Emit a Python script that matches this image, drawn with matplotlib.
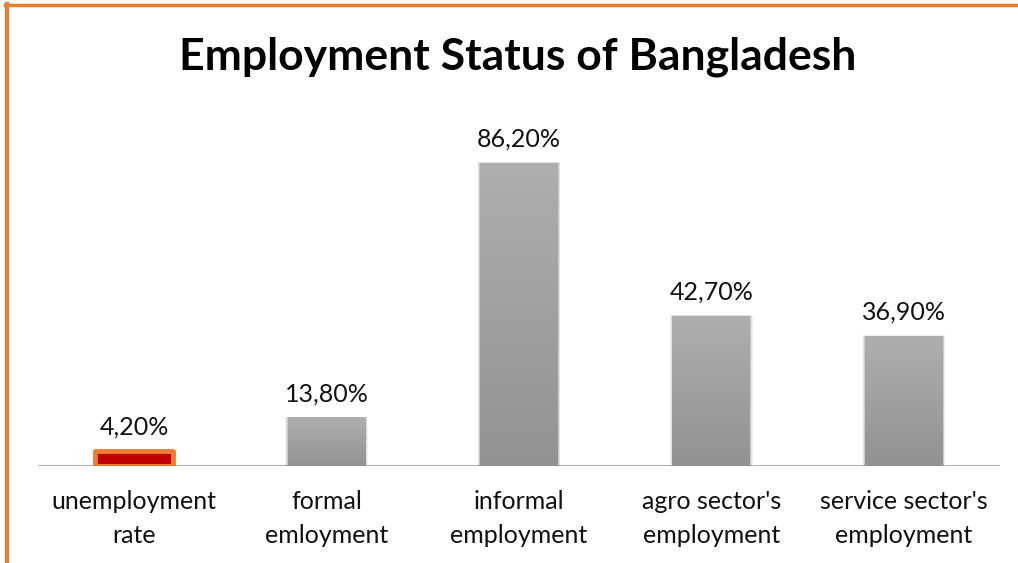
import numpy as np
import matplotlib.pyplot as plt
from matplotlib.patches import Rectangle
from matplotlib.lines import Line2D
from matplotlib.colors import LinearSegmentedColormap

categories = ["unemployment\nrate", "formal\nemloyment", "informal\nemployment",
              "agro sector's\nemployment", "service sector's\nemployment"]
values = [4.2, 13.8, 86.2, 42.7, 36.9]
value_labels = ["4,20%", "13,80%", "86,20%", "42,70%", "36,90%"]

plt.rcParams['font.family'] = ['Lato', 'DejaVu Sans']

W, H = 1018, 563
fig = plt.figure(figsize=(W / 100, H / 100), dpi=100)
fig.patch.set_facecolor('white')

ax = fig.add_axes([38 / W, (H - 466) / H, (1000 - 38) / W, (466 - 114.5) / H])
ax.set_xlim(-0.5, len(categories) - 0.5)
ax.set_ylim(0, 100)
for s in ax.spines.values():
    s.set_visible(False)
ax.set_yticks([])
ax.set_xticks([])
ax.axhline(0, color='#A6A6A6', lw=1.2, zorder=1)

x = np.arange(len(categories))
bw = 0.405
bars = ax.bar(x, values, width=bw, color='#A0A0A0', zorder=3)

grad = np.linspace(0, 1, 256).reshape(-1, 1)
cmap = LinearSegmentedColormap.from_list('g', ['#929292', '#AEAEAE'])

for i, (b, v) in enumerate(zip(bars, values)):
    x0 = b.get_x()
    if i == 0:
        b.set_facecolor('#C00000')
        b.set_edgecolor('#ED7D31')
        b.set_linewidth(3.5)
        b.set_joinstyle('round')
    else:
        # soft shadow behind the bar
        for k, a in zip([0.012, 0.008, 0.004], [0.05, 0.07, 0.09]):
            ax.add_patch(Rectangle((x0 - k, -0.3), bw + 2 * k, v + 0.3 + k * 20,
                                   color='black', alpha=a, lw=0, zorder=2))
        im = ax.imshow(grad, cmap=cmap, aspect='auto', origin='lower',
                       extent=[x0, x0 + bw, 0, v], zorder=3.5)
        im.set_clip_path(b)
    ax.text(x[i], v + 6.8, value_labels[i], ha='center', va='center',
            fontsize=18, color='#111111')
    ax.text(x[i], -6.9, categories[i], ha='center', va='top',
            fontsize=18, color='#111111', linespacing=1.58)

fig.text(518 / W, 1 - 57 / H, "Employment Status of Bangladesh", ha='center',
         va='center', fontsize=32, fontweight='bold', color='black')

# frame edges along top and left
fig.add_artist(Line2D([5 / W, 1], [1 - 5 / H, 1 - 5 / H], color='#ED7D31', lw=2.5,
                      transform=fig.transFigure))
fig.add_artist(Line2D([7 / W, 7 / W], [0, 1 - 4 / H], color='#ED7D31', lw=3,
                      transform=fig.transFigure))

fig.savefig('out.png', dpi=100, facecolor='white')
